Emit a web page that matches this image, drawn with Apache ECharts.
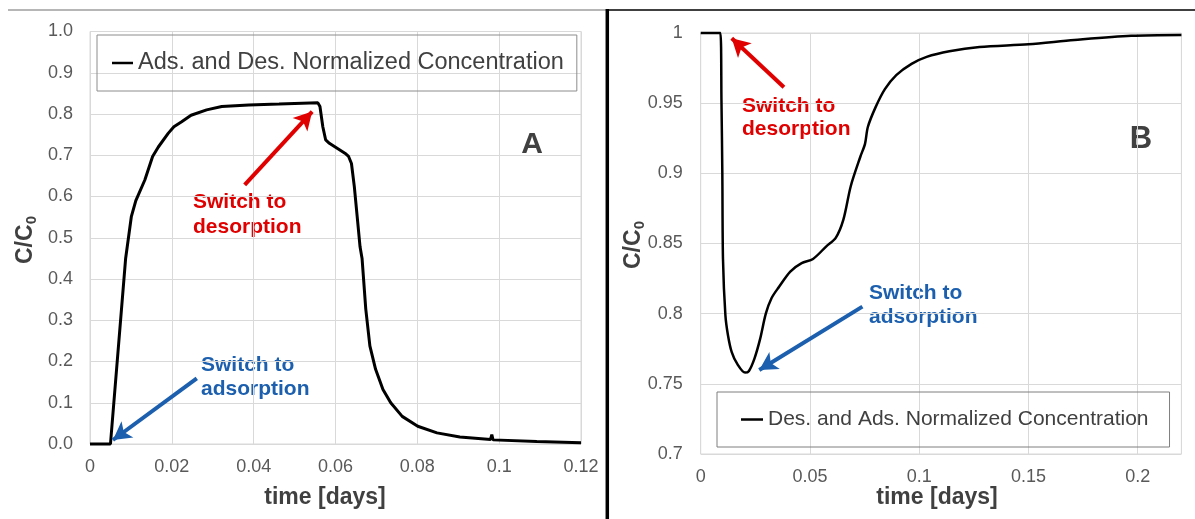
<!DOCTYPE html>
<html>
<head>
<meta charset="utf-8">
<script src="https://cdn.jsdelivr.net/npm/echarts@6/dist/echarts.min.js"></script>
<style>
html,body{margin:0;padding:0;background:#fff;}
#c{width:1195px;height:519px;}
</style>
</head>
<body>
<div id="c"></div>
<script>
// ---- Panel A data (time [days], C/C0) ----
const timeA = [0, 0.005, 0.0087, 0.0101, 0.0112, 0.0134, 0.0153, 0.0167, 0.0191, 0.0205, 0.0224, 0.0247, 0.0285, 0.0322, 0.0388, 0.0462, 0.0557, 0.0562, 0.0569, 0.0576, 0.0585, 0.0604, 0.0623, 0.0632, 0.0639, 0.0646, 0.0653, 0.066, 0.0665, 0.0674, 0.0684, 0.0698, 0.0716, 0.0735, 0.0763, 0.0801, 0.0848, 0.0904, 0.0979, 0.0982, 0.0985, 0.1092, 0.12];
const valueA = [0, 0, 0.449, 0.551, 0.59, 0.64, 0.697, 0.72, 0.753, 0.769, 0.781, 0.797, 0.81, 0.818, 0.822, 0.824, 0.827, 0.818, 0.769, 0.737, 0.729, 0.717, 0.705, 0.697, 0.68, 0.624, 0.551, 0.478, 0.449, 0.327, 0.238, 0.181, 0.132, 0.10, 0.067, 0.043, 0.027, 0.017, 0.011, 0.023, 0.01, 0.006, 0.003];
// ---- Panel B data ----
const timeB = [0, 0.009, 0.0095, 0.0099, 0.0102, 0.0113, 0.0125, 0.0142, 0.0168, 0.0203, 0.022, 0.0246, 0.0272, 0.0298, 0.0324, 0.0358, 0.041, 0.0462, 0.0514, 0.0575, 0.0618, 0.0653, 0.0687, 0.0731, 0.0752, 0.0765, 0.08, 0.0843, 0.0895, 0.0965, 0.1034, 0.1138, 0.1276, 0.15, 0.171, 0.197, 0.22];
const valueB = [1, 1, 0.952, 0.9, 0.839, 0.799, 0.7845, 0.7726, 0.764, 0.758, 0.759, 0.768, 0.782, 0.80, 0.811, 0.819, 0.830, 0.836, 0.839, 0.848, 0.854, 0.867, 0.891, 0.912, 0.921, 0.933, 0.947, 0.960, 0.970, 0.978, 0.983, 0.987, 0.990, 0.992, 0.995, 0.998, 0.9986];

const seriesNameA = 'Ads. and Des. Normalized Concentration';
const seriesNameB = 'Des. and Ads. Normalized Concentration';

// annotation arrows [tail, head] in data coordinates
const arrowDesA = [[0.0378, 0.628], [0.0543, 0.806]];
const arrowAdsA = [[0.0261, 0.159], [0.0056, 0.0097]];
const arrowDesB = [[0.0381, 0.9613], [0.0142, 0.9962]];
const arrowAdsB = [[0.0740, 0.805], [0.0268, 0.7599]];

const RED = '#e00000', BLUE = '#1b5fae', FONT = 'Liberation Sans, Arial, sans-serif';

function pairs(t, v){ return t.map((x,i)=>[x, v[i]]); }
function arrowML(a, color){
  return [{coord: a[0], lineStyle:{color:color, width:4, type:'solid'}, itemStyle:{color:color}}, {coord: a[1], itemStyle:{color:color}}];
}
function txt(x, y, s, color, size, align){
  return {type:'text', x:x, y:y, silent:true, style:{text:s, fill:color, font:'bold '+size+'px '+FONT, textAlign:align||'left', textVerticalAlign:'middle'}};
}
function ctitle(x, y){
  return {type:'group', x:x, y:y, rotation:Math.PI/2, silent:true, children:[
    {type:'text', x:-24, y:0, style:{text:'C/C', fill:'#404040', font:'bold 23px '+FONT, textAlign:'left', textVerticalAlign:'middle'}},
    {type:'text', x:15.8, y:6, style:{text:'0', fill:'#404040', font:'bold 15px '+FONT, textAlign:'left', textVerticalAlign:'middle'}}
  ]};
}

const axisLabelStyle = {color:'#595959', fontSize:18, fontFamily:FONT};
const gridLine = {lineStyle:{color:'#d9d9d9', width:1}};

const chart = echarts.init(document.getElementById('c'), null, {renderer:'canvas'});
chart.setOption({
  animation:false,
  textStyle:{fontFamily:FONT},
  grid:[
    {left:90, top:31.5, width:491, height:412.5, show:true, borderColor:'#d9d9d9', borderWidth:1, containLabel:false},
    {left:700.7, top:33, width:480.7, height:421, show:true, borderColor:'#d9d9d9', borderWidth:1, containLabel:false}
  ],
  xAxis:[
    {type:'value', gridIndex:0, min:0, max:0.12, interval:0.02, axisLine:{show:false}, axisTick:{show:false}, splitLine:gridLine, axisLabel:Object.assign({margin:14}, axisLabelStyle)},
    {type:'value', gridIndex:1, min:0, max:0.22, interval:0.05, axisLine:{show:false}, axisTick:{show:false}, splitLine:gridLine, axisLabel:Object.assign({margin:14, showMaxLabel:false}, axisLabelStyle)}
  ],
  yAxis:[
    {type:'value', gridIndex:0, min:0, max:1, interval:0.1, axisLine:{show:false}, axisTick:{show:false}, splitLine:gridLine, axisLabel:Object.assign({margin:17, formatter:v=>v.toFixed(1)}, axisLabelStyle)},
    {type:'value', gridIndex:1, min:0.7, max:1, interval:0.05, axisLine:{show:false}, axisTick:{show:false}, splitLine:gridLine, axisLabel:Object.assign({margin:18}, axisLabelStyle)}
  ],
  legend:[
    {data:[seriesNameA], left:97, top:35, padding:[16,13,16,15], borderColor:'#8c8c8c', borderWidth:1, icon:'rect', itemWidth:21, itemHeight:2.5, selectedMode:false,
     textStyle:{fontSize:23.5, color:'#404040', fontFamily:FONT}},
    {data:[seriesNameB], left:717, top:392, padding:[17,21,17,24], borderColor:'#7f7f7f', borderWidth:1, icon:'rect', itemWidth:22, itemHeight:2.5, selectedMode:false,
     textStyle:{fontSize:21, color:'#404040', fontFamily:FONT}}
  ],
  series:[
    {name:seriesNameA, type:'line', xAxisIndex:0, yAxisIndex:0, data:pairs(timeA, valueA), showSymbol:false, clip:false,
     lineStyle:{color:'#000', width:3}, itemStyle:{color:'#000'},
     markLine:{silent:true, symbol:['none','arrow'], symbolSize:[15,18], label:{show:false}, animation:false,
       data:[arrowML(arrowDesA, RED), arrowML(arrowAdsA, BLUE)]}},
    {name:seriesNameB, type:'line', xAxisIndex:1, yAxisIndex:1, data:pairs(timeB, valueB), showSymbol:false, clip:false,
     smooth:0.3,
     lineStyle:{color:'#000', width:2.5}, itemStyle:{color:'#000'},
     markLine:{silent:true, symbol:['none','arrow'], symbolSize:[15,18], label:{show:false}, animation:false,
       data:[arrowML(arrowDesB, RED), arrowML(arrowAdsB, BLUE)]}}
  ],
  graphic:[
    {type:'line', silent:true, shape:{x1:8, y1:10, x2:607, y2:10}, style:{stroke:'#6e6e6e', lineWidth:1.2}},
    {type:'line', silent:true, shape:{x1:607, y1:10, x2:1195, y2:10}, style:{stroke:'#000', lineWidth:1.5}},
    {type:'line', silent:true, shape:{x1:607.3, y1:9, x2:607.3, y2:519}, style:{stroke:'#000', lineWidth:3.5}},
    txt(325, 498, 'time [days]', '#404040', 23, 'center'),
    txt(937, 498, 'time [days]', '#404040', 23, 'center'),
    ctitle(26, 240),
    ctitle(634, 245),
    txt(532, 145, 'A', '#404040', 30, 'center'),
    txt(1141, 139, 'B', '#404040', 31, 'center'),
    txt(193, 202, 'Switch to', RED, 21),
    txt(193, 227, 'desorption', RED, 21),
    txt(201, 365, 'Switch to', BLUE, 21),
    txt(201, 389, 'adsorption', BLUE, 21),
    txt(742, 106, 'Switch to', RED, 21),
    txt(742, 129, 'desorption', RED, 21),
    txt(869, 293, 'Switch to', BLUE, 21),
    txt(869, 317, 'adsorption', BLUE, 21)
  ]
});
</script>
</body>
</html>
